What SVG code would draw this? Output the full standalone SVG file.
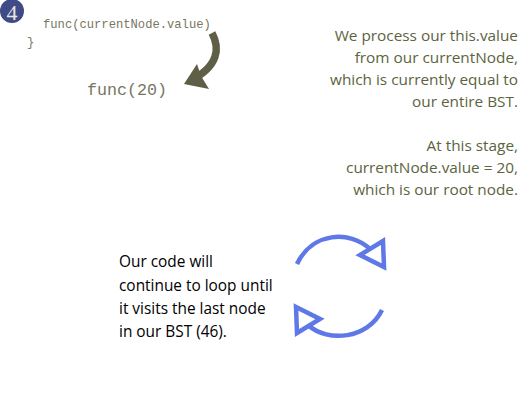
<svg xmlns="http://www.w3.org/2000/svg" width="528" height="408" viewBox="0 0 528 408">
<style>
.s{font-family:"Open Sans","Noto Sans",sans-serif;font-size:15.35px;fill:#5c6340;text-anchor:end}
.b{font-family:"Open Sans","Noto Sans",sans-serif;font-size:15.4px;fill:#000}
.m{font-family:"Liberation Mono",monospace;fill:#77775f}
.l{fill:none;stroke:#5f78e8;stroke-width:4.5}
</style>
<rect width="528" height="408" fill="#fff"/>
<g id="badge"><circle cx="12" cy="11" r="12" fill="#3f4a86"/>
<text x="12" y="20" font-family="Liberation Serif,serif" font-size="22" fill="#e8e8e0" text-anchor="middle">4</text></g>
<g id="code">
<text class="m" x="43" y="28" font-size="12.17">func(currentNode.value)</text>
<text class="m" x="27" y="46" font-size="12.17">}</text>
<text class="m" x="87" y="95" font-size="16.7">func(20)</text>
</g>
<g id="curved-arrow">
<path d="M212 33C220 48 219 66 190 81" fill="none" stroke="#5f5f48" stroke-width="7.5"/>
<path d="M184 84L197 64L201 76L209 89Z" fill="#5f5f48"/>
</g>
<g id="explain">
<text class="s" x="518" y="41">We process our this.value</text>
<text class="s" x="518" y="63">from our currentNode,</text>
<text class="s" x="518" y="85">which is currently equal to</text>
<text class="s" x="518" y="107">our entire BST.</text>
<text class="s" x="518" y="151">At this stage,</text>
<text class="s" x="518" y="173">currentNode.value = 20,</text>
<text class="s" x="518" y="195">which is our root node.</text>
</g>
<g id="loop-text">
<text class="b" x="119" y="267">Our code will</text>
<text class="b" x="119" y="291">continue to loop until</text>
<text class="b" x="119" y="314">it visits the last node</text>
<text class="b" x="119" y="337">in our BST (46).</text>
</g>
<g id="connectors">
<path class="l" d="M297 264C312 232 350 230 370 249"/>
<path class="l" d="M383 241L360 255L384 267Z"/>
<path class="l" d="M382 310C368 339 328 343 308 325"/>
<path class="l" d="M296 307L320 319L297 333Z"/>
</g>
</svg>
